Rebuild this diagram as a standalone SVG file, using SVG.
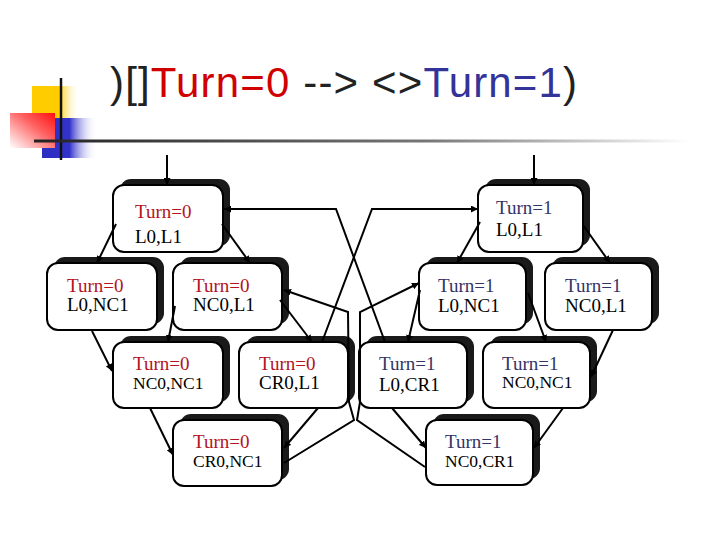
<svg xmlns="http://www.w3.org/2000/svg" width="720" height="540" viewBox="0 0 720 540">
<defs>
<linearGradient id="gY" x1="0" y1="0" x2="1" y2="0"><stop offset="0" stop-color="#ffcc00"/><stop offset="0.55" stop-color="#ffcc00"/><stop offset="1" stop-color="#ffffff" stop-opacity="0"/></linearGradient>
<linearGradient id="gB" x1="0" y1="0" x2="1" y2="0"><stop offset="0" stop-color="#2d2dc0"/><stop offset="0.5" stop-color="#3333cc"/><stop offset="1" stop-color="#ffffff" stop-opacity="0"/></linearGradient>
<linearGradient id="gR" x1="0" y1="1" x2="1" y2="0"><stop offset="0" stop-color="#ffffff"/><stop offset="0.6" stop-color="#ff6060"/><stop offset="1" stop-color="#ff1010"/></linearGradient>
<linearGradient id="gL" x1="0" y1="0" x2="1" y2="0"><stop offset="0" stop-color="#222"/><stop offset="0.6" stop-color="#777"/><stop offset="1" stop-color="#fff"/></linearGradient>
<marker id="ah" viewBox="0 0 10 10" refX="10" refY="5" markerWidth="7" markerHeight="7" markerUnits="userSpaceOnUse" orient="auto"><path d="M0,0 L10,5 L0,10 z" fill="#000"/></marker>
</defs>
<style>
.sh{fill:#1a1a1a}
.bx{fill:#fff;stroke:#000;stroke-width:2}
.t{font-family:"Liberation Serif","Times New Roman",serif;font-size:19px;fill:#000}
.r{fill:#b3121e}
.b{fill:#333366}
.sm{font-size:17.5px}
.c{fill:none;stroke:#000;stroke-width:2}
.a{marker-end:url(#ah)}
</style>
<rect width="720" height="540" fill="#fff"/>
<g id="decor">
<rect x="32" y="86" width="48" height="34" fill="url(#gY)"/>
<rect x="42" y="118" width="55" height="40" fill="url(#gB)"/>
<rect x="10" y="113" width="45" height="35" fill="url(#gR)"/>
<line x1="61" y1="78" x2="61" y2="160" stroke="#111" stroke-width="2.5"/>
<rect x="34" y="139.5" width="656" height="3" fill="url(#gL)"/>
</g>
<text id="title" x="110" y="97" font-family="'Liberation Sans',Arial,sans-serif" font-size="42" fill="#222" textLength="467">)[]<tspan fill="#d00000">Turn=0</tspan> --&gt; &lt;&gt;<tspan fill="#333399">Turn=1</tspan>)</text>
<g id="nodes">
<g id="n1"><rect class="sh" x="120" y="179" width="110" height="67" rx="11"/><rect class="bx" x="113" y="185" width="110" height="67" rx="11"/><text class="t r" x="135" y="218" font-size="23">Turn=0</text><text class="t" x="135" y="243" font-size="23">L0,L1</text></g>
<g id="n2"><rect class="sh" x="54" y="257" width="110" height="67" rx="11"/><rect class="bx" x="47" y="263" width="110" height="67" rx="11"/><text class="t r" x="67" y="292">Turn=0</text><text class="t" x="67" y="311">L0,NC1</text></g>
<g id="n3"><rect class="sh" x="180" y="257" width="109" height="67" rx="11"/><rect class="bx" x="173" y="263" width="109" height="67" rx="11"/><text class="t r" x="193" y="292">Turn=0</text><text class="t" x="193" y="311">NC0,L1</text></g>
<g id="n4"><rect class="sh" x="485" y="179" width="105" height="67" rx="11"/><rect class="bx" x="478" y="185" width="105" height="67" rx="11"/><text class="t b" x="496" y="214">Turn=1</text><text class="t" x="496" y="236">L0,L1</text></g>
<g id="n5"><rect class="sh" x="426" y="257" width="107" height="67" rx="11"/><rect class="bx" x="419" y="263" width="107" height="67" rx="11"/><text class="t b" x="438" y="292">Turn=1</text><text class="t" x="438" y="312">L0,NC1</text></g>
<g id="n6"><rect class="sh" x="552" y="257" width="107" height="67" rx="11"/><rect class="bx" x="545" y="263" width="107" height="67" rx="11"/><text class="t b" x="565" y="292">Turn=1</text><text class="t" x="565" y="312">NC0,L1</text></g>
<g id="n7"><rect class="sh" x="120" y="336" width="110" height="66" rx="11"/><rect class="bx" x="113" y="342" width="110" height="66" rx="11"/><text class="t r" x="133" y="370">Turn=0</text><text class="t sm" x="133" y="389">NC0,NC1</text></g>
<g id="n8"><rect class="sh" x="246" y="336" width="109" height="66" rx="11"/><rect class="bx" x="239" y="342" width="109" height="66" rx="11"/><text class="t r" x="259" y="370">Turn=0</text><text class="t" x="259" y="389">CR0,L1</text></g>
<g id="n9"><rect class="sh" x="180" y="414" width="109" height="66" rx="11"/><rect class="bx" x="173" y="420" width="109" height="66" rx="11"/><text class="t r" x="193" y="448">Turn=0</text><text class="t sm" x="193" y="467">CR0,NC1</text></g>
<g id="n10"><rect class="sh" x="366" y="336" width="108" height="66" rx="11"/><rect class="bx" x="359" y="342" width="108" height="66" rx="11"/><text class="t b" x="379" y="370">Turn=1</text><text class="t" x="379" y="391">L0,CR1</text></g>
<g id="n11"><rect class="sh" x="490" y="336" width="107" height="66" rx="11"/><rect class="bx" x="483" y="342" width="107" height="66" rx="11"/><text class="t b" x="502" y="370">Turn=1</text><text class="t sm" x="502" y="388">NC0,NC1</text></g>
<g id="n12"><rect class="sh" x="433" y="414" width="107" height="65" rx="11"/><rect class="bx" x="426" y="420" width="107" height="65" rx="11"/><text class="t b" x="445" y="448">Turn=1</text><text class="t sm" x="445" y="467">NC0,CR1</text></g>
</g>
<g id="connectors">
<path class="c a" d="M167,155 L167,185"/>
<path class="c a" d="M534,155 L534,185"/>
<path class="c a" d="M116,224 L97,263"/>
<path class="c a" d="M222,224 L250,263"/>
<path class="c a" d="M92,331 L112,371"/>
<path class="c a" d="M175,306 L168,342"/>
<path class="c a" d="M280,300 L312,342"/>
<path class="c a" d="M150,408 L173,455"/>
<path class="c a" d="M318,408 L284,448"/>
<path class="c a" d="M322,342 L372,209 L478,209"/>
<path class="c a" d="M385,342 L336,209 L224,209"/>
<path class="c a" d="M284,463 L354,420 L349,402 L348,312 L284,290"/>
<path class="c a" d="M425,467 L357,420 L360,402 L360,312 L419,283"/>
<path class="c a" d="M480,222 L457,263"/>
<path class="c a" d="M583,225 L610,263"/>
<path class="c a" d="M420,290 L408,342"/>
<path class="c a" d="M528,293 L546,342"/>
<path class="c a" d="M613,330 L591,377"/>
<path class="c a" d="M392,408 L426,448"/>
<path class="c a" d="M563,408 L534,448"/>
</g>
</svg>
